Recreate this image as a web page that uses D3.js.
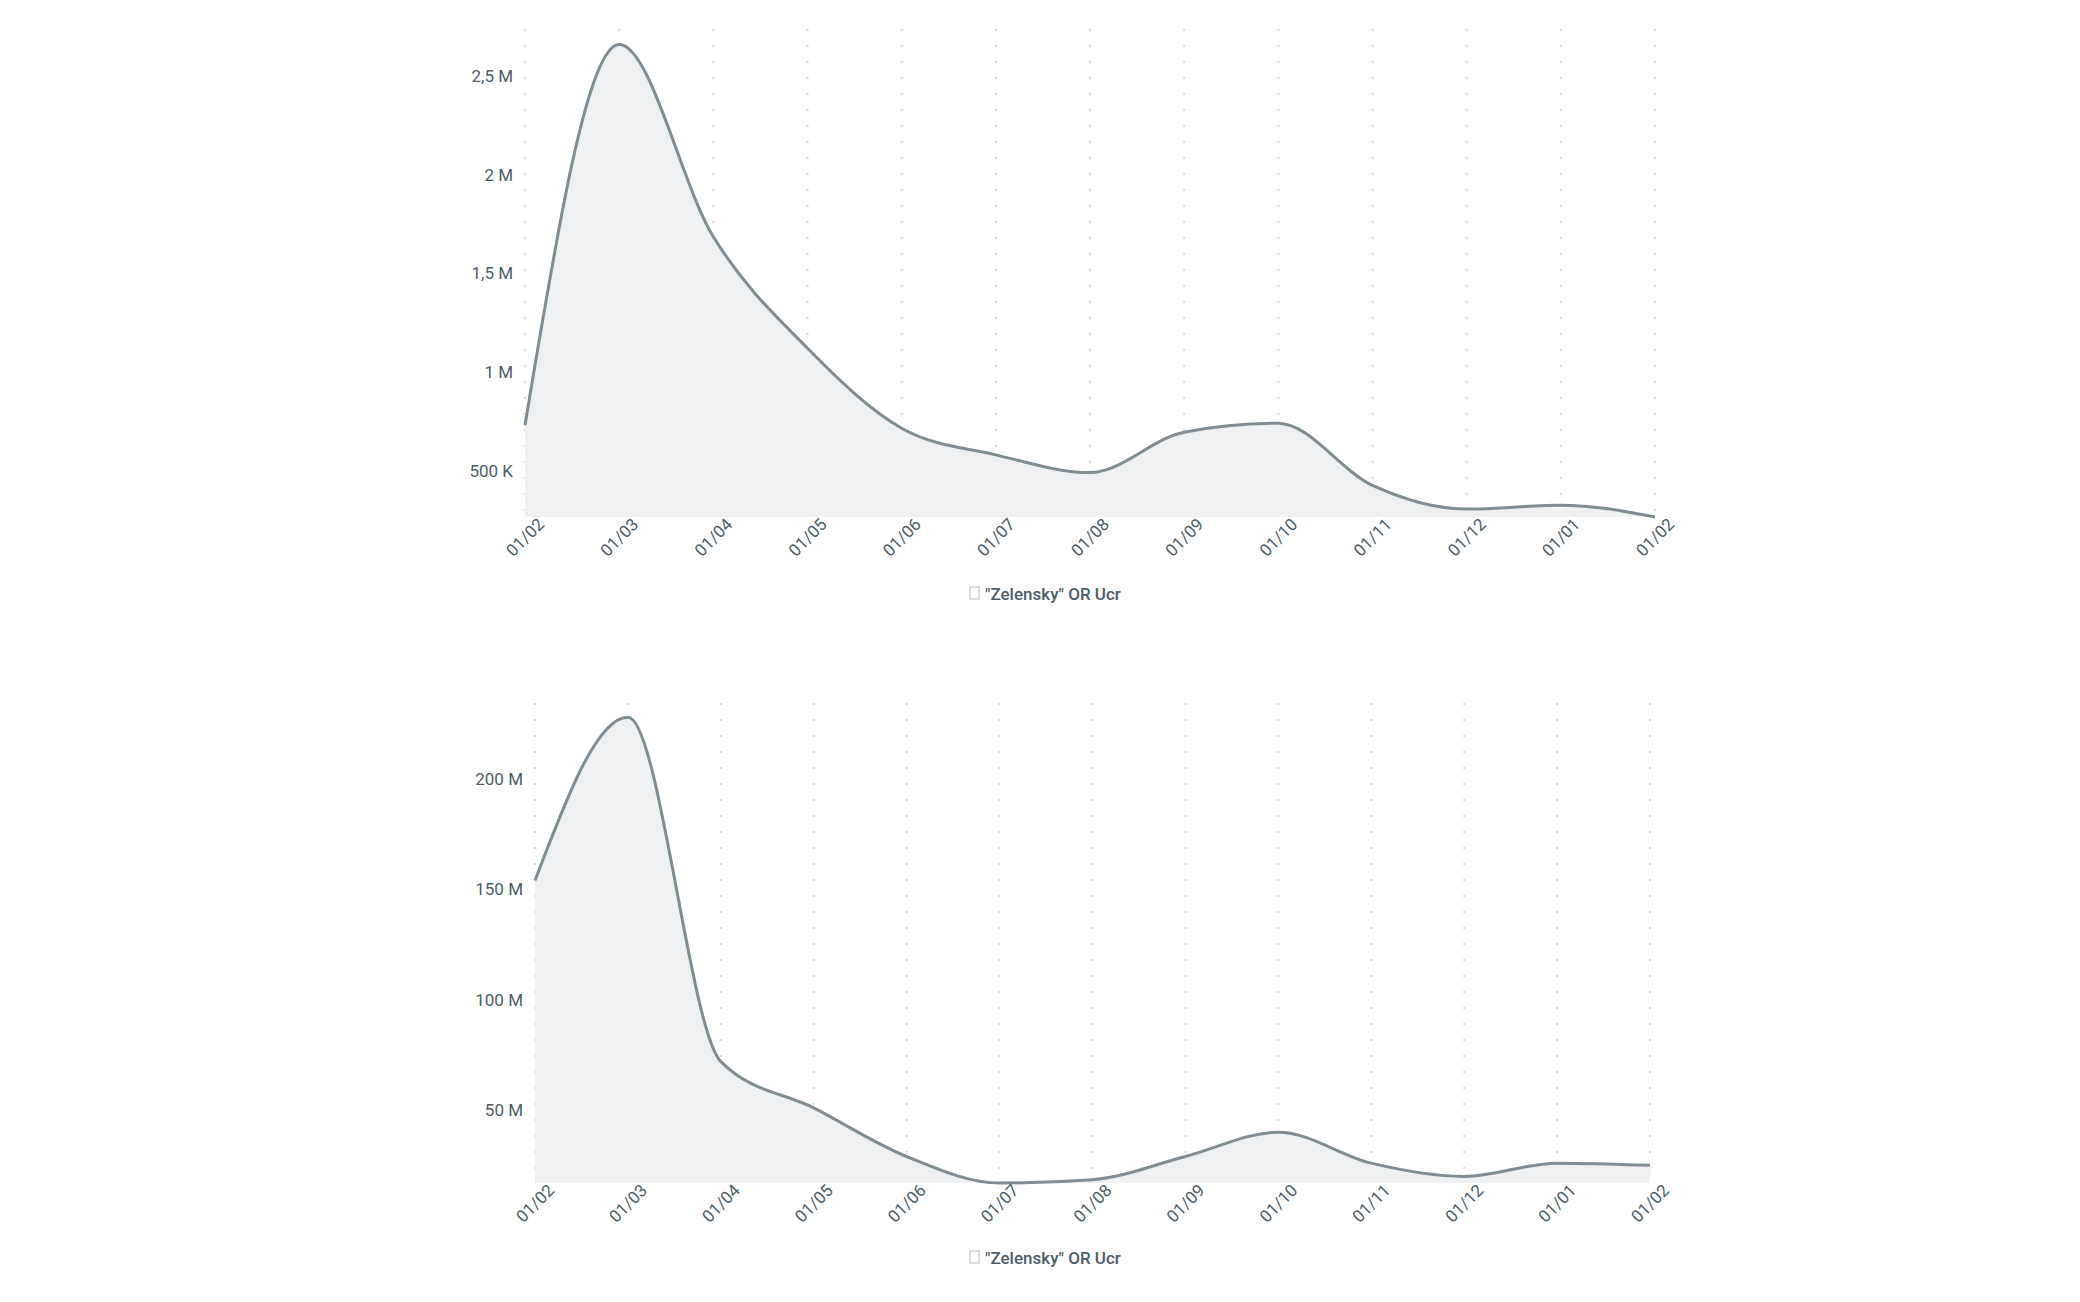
<!DOCTYPE html>
<html>
<head>
<meta charset="utf-8">
<script src="https://cdn.jsdelivr.net/npm/d3@7"></script>
<style>
  body { margin: 0; background: #fff; }
  text { font-family: Roboto, "Noto Sans", sans-serif; fill: #4d5d66; }
</style>
</head>
<body>
<svg id="chart" width="2080" height="1302"></svg>
<script>
const months = ["01/02", "01/03", "01/04", "01/05", "01/06", "01/07", "01/08",
  "01/09", "01/10", "01/11", "01/12", "01/01", "01/02"];
const seriesName = "\"Zelensky\" OR Ucr";

const topValues = [730000, 2660000, 1685000, 1120000, 715000, 580000, 490000,
  695000, 740000, 425000, 305000, 325000, 265000];
const topTicks = [500000, 1000000, 1500000, 2000000, 2500000];
const topLabels = ["500 K", "1 M", "1,5 M", "2 M", "2,5 M"];

const bottomValues = [154e6, 228e6, 72e6, 51e6, 29e6, 17e6, 18.5e6,
  29e6, 40e6, 26e6, 20e6, 26e6, 25e6];
const bottomTicks = [50e6, 100e6, 150e6, 200e6];
const bottomLabels = ["50 M", "100 M", "150 M", "200 M"];

const svg = d3.select("#chart");

const paintChart = (opts) => {
  const { values, ticks, labels, left, right, top, bottom, legendY } = opts;
  const g = svg.append("g");
  const idx = d3.range(values.length);

  const x = d3.scaleLinear().domain([0, values.length - 1]).range([left, right]);
  const y = d3.scaleLinear().domain([d3.min(values), opts.yAt]).range([bottom, opts.yAtPx]);

  // dotted vertical grid
  g.selectAll(".grid")
    .data(idx)
    .join("line")
    .attr("x1", d => x(d)).attr("x2", d => x(d))
    .attr("y1", top).attr("y2", bottom)
    .attr("stroke", "#d5d9dc")
    .attr("stroke-width", 2)
    .attr("stroke-dasharray", "2,14");

  const area = d3.area()
    .x(d => x(d)).y0(bottom).y1(d => y(values[d]))
    .curve(d3.curveMonotoneX);
  const line = d3.line()
    .x(d => x(d)).y(d => y(values[d]))
    .curve(d3.curveMonotoneX);

  g.append("path").attr("d", area(idx)).attr("fill", "#eff0f2");
  g.append("path").attr("d", line(idx))
    .attr("fill", "none").attr("stroke", "#7f8d92").attr("stroke-width", 3);

  // y axis labels
  const yAxis = d3.axisLeft(y).tickValues(ticks)
    .tickFormat((d, i) => labels[i]).tickSize(0).tickPadding(12);
  const ya = g.append("g").attr("transform", `translate(${left},0)`).call(yAxis);
  ya.select(".domain").remove();
  ya.selectAll("text").attr("font-size", 17).style("fill", "#4d5d66");

  // x axis labels
  const xAxis = d3.axisBottom(x).tickValues(idx)
    .tickFormat(d => months[d]).tickSize(0).tickPadding(10);
  const xa = g.append("g").attr("transform", `translate(0,${bottom})`).call(xAxis);
  xa.select(".domain").remove();
  xa.selectAll("text")
    .attr("font-size", 17)
    .style("fill", "#4d5d66")
    .attr("text-anchor", "end")
    .attr("dx", 8).attr("dy", 10)
    .attr("transform", "rotate(-45)");

  // legend
  const lg = g.append("g").attr("transform", `translate(1053,${legendY})`);
  lg.append("rect").attr("x", -83).attr("y", -7).attr("width", 9).attr("height", 12)
    .attr("fill", "none").attr("stroke", "#b8bfc3").attr("stroke-width", 1);
  lg.append("text").attr("x", -68).attr("y", 6)
    .attr("font-size", 17).attr("font-weight", 500)
    .text(seriesName);
};

paintChart({
  values: topValues, ticks: topTicks, labels: topLabels,
  left: 525, right: 1655, top: 29, bottom: 517,
  yAt: 2500000, yAtPx: 76, legendY: 594
});

paintChart({
  values: bottomValues, ticks: bottomTicks, labels: bottomLabels,
  left: 535, right: 1650, top: 703, bottom: 1183,
  yAt: 200e6, yAtPx: 779, legendY: 1258
});
</script>
</body>
</html>
